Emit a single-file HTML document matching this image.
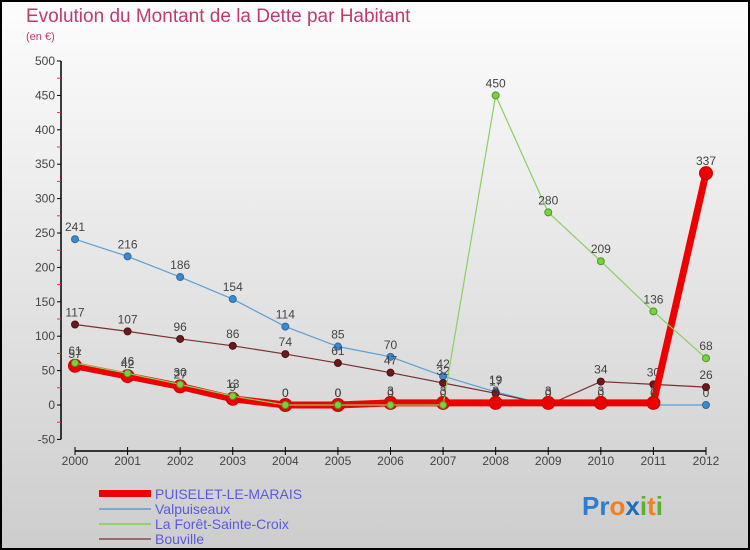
<!DOCTYPE html>
<html><head><meta charset="utf-8"><style>
body{margin:0}
#wrap{width:750px;height:550px;position:relative;overflow:hidden}
svg{display:block;font-family:"Liberation Sans",sans-serif}
</style></head><body>
<div id="wrap">
<svg id="c" width="750" height="550">
<defs><linearGradient id="bg" x1="0" y1="0" x2="0" y2="1"><stop offset="0" stop-color="#fdfdfd"/><stop offset="1" stop-color="#cdcdcd"/></linearGradient></defs>
<rect x="1" y="1" width="748" height="548" fill="url(#bg)" stroke="#000" stroke-width="2"/>
<text x="26" y="22" font-size="19" fill="#c03a6c">Evolution du Montant de la Dette par Habitant</text>
<text x="26" y="40" font-size="11" fill="#c03a6c">(en €)</text>
<g id="axes"></g><g id="series"></g>
<g>
<rect x="99" y="490" width="52" height="7" fill="#e00"/>
<text x="155" y="499" font-size="14" fill="#5a5ae0">PUISELET-LE-MARAIS</text>
<line x1="99" y1="509" x2="151" y2="509" stroke="#7fa7c8" stroke-width="2"/>
<text x="155" y="514" font-size="14" fill="#5a5ae0">Valpuiseaux</text>
<line x1="99" y1="524" x2="151" y2="524" stroke="#8fd46a" stroke-width="2"/>
<text x="155" y="529" font-size="14" fill="#5a5ae0">La Forêt-Sainte-Croix</text>
<line x1="99" y1="539" x2="151" y2="539" stroke="#9a6a6a" stroke-width="2"/>
<text x="155" y="544" font-size="14" fill="#5a5ae0">Bouville</text>
</g>
<text x="582" y="515" font-size="26" font-weight="bold"><tspan fill="#2a7fd0">Pr</tspan><tspan fill="#f08020">o</tspan><tspan fill="#1a70c0">x</tspan><tspan fill="#60b030">i</tspan><tspan fill="#f08020">t</tspan><tspan fill="#60b030">i</tspan></text>
</svg></div>
<script>
const years=[2000,2001,2002,2003,2004,2005,2006,2007,2008,2009,2010,2011,2012];
const yTicks=[-50,0,50,100,150,200,250,300,350,400,450,500];
const puiselet=[57,42,27,9,0,0,3,3,3,3,3,3,337];
const valpuiseaux=[241,216,186,154,114,85,70,42,19,0,0,0,0];
const laforet=[61,46,30,13,0,0,0,0,450,280,209,136,68];
const bouville=[117,107,96,86,74,61,47,32,17,0,34,30,26];
const NS='http://www.w3.org/2000/svg';
const X=i=>75+i*(706-75)/12;
const Y=v=>405-v*(405-61)/500;
function mk(t,a,p){const e=document.createElementNS(NS,t);for(const k in a)e.setAttribute(k,a[k]);p.appendChild(e);return e;}
const ax=document.getElementById('axes');
let e=mk('line',{x1:61,y1:Y(500),x2:61,y2:Y(-50),stroke:'#000','stroke-width':1.5},ax);

e=mk('line',{x1:X(0),y1:451,x2:X(12),y2:451,stroke:'#000','stroke-width':1.5},ax);

yTicks.forEach((v,k)=>{
 mk('line',{x1:57,y1:Y(v),x2:61,y2:Y(v),stroke:'#000'},ax);
 if(k<yTicks.length-1) mk('line',{x1:57,y1:Y(v+25),x2:61,y2:Y(v+25),stroke:'#e33'},ax);
 const t=mk('text',{x:55,y:Y(v)+4,'font-size':12,fill:'#444','text-anchor':'end'},ax);t.textContent=v;
 
});
years.forEach((y,i)=>{
 mk('line',{x1:X(i),y1:447,x2:X(i),y2:455,stroke:'#000'},ax);
 const t=mk('text',{x:X(i),y:465,'font-size':12,fill:'#444','text-anchor':'middle'},ax);t.textContent=y;
 
});
const sg=document.getElementById('series');
function series(name,data,color,w,r,dot,stroke){
 const g=mk('g',{},sg);
 
 const p=mk('polyline',{points:data.map((v,i)=>X(i)+','+Y(v)).join(' '),fill:'none',stroke:color,'stroke-width':w,'stroke-linejoin':'round'},g);
 
 data.forEach((v,i)=>{
  const c=mk('circle',{cx:X(i),cy:Y(v),r:r,fill:dot,stroke:stroke,'stroke-width':1},g);
  
  const t=mk('text',{x:X(i),y:Y(v)-8,'font-size':12,fill:'#444','text-anchor':'middle'},g);t.textContent=v;
  
 });
}
series('valpuiseaux',valpuiseaux,'#5aa0d8',1.2,3.5,'#3a8ad0','#2a6aa0');
series('bouville',bouville,'#7a3030',1.2,3.5,'#6a1a1a','#501010');
series('puiselet',puiselet,'#ee0000',7,6.5,'#ee0000','#c00');
series('laforet',laforet,'#88d060',1.2,3.5,'#7ad040','#4a9a20');
</script>
</body></html>
